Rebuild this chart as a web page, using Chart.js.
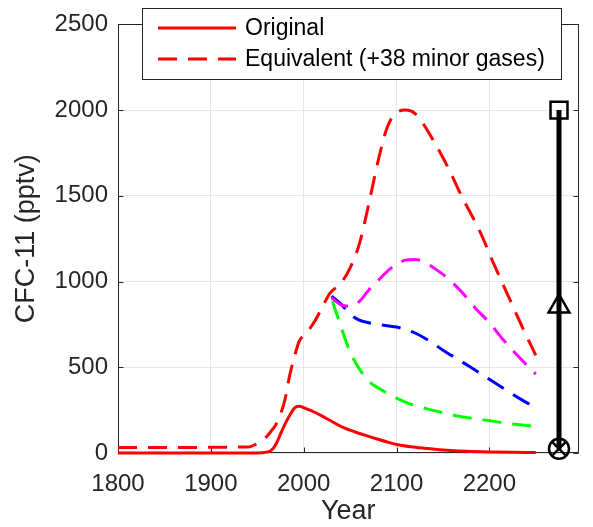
<!DOCTYPE html>
<html>
<head>
<meta charset="utf-8">
<script src="https://cdn.jsdelivr.net/npm/chart.js@4/dist/chart.umd.min.js"></script>
<style>
body { margin: 0; background: #fff; overflow: hidden; }
</style>
</head>
<body>
<canvas id="cfcChart" width="593" height="527"></canvas>
<script>
// CFC-11 mixing ratio (pptv)
const origYears = [1800, 1950, 1960, 1965, 1970, 1975, 1980, 1985, 1990, 1995, 2000, 2010, 2020, 2030, 2040, 2050, 2060, 2070, 2080, 2090, 2100, 2115, 2130, 2150, 2175, 2200, 2225, 2250];
const origVals  = [0, 0, 5, 15, 50, 110, 170, 220, 262, 272, 265, 242, 215, 185, 155, 133, 114, 97, 80, 64, 50, 37, 28, 18, 10, 6, 4, 3];

const equivYears = [1800, 1940, 1950, 1955, 1960, 1965, 1970, 1975, 1980, 1985, 1990, 1995, 2003, 2012, 2020, 2028, 2040, 2050, 2060, 2070, 2080, 2090, 2100, 2110, 2120, 2130, 2140, 2155, 2170, 2190, 2205, 2220, 2235, 2250];
const equivVals  = [32, 35, 55, 72, 95, 128, 165, 225, 315, 455, 560, 650, 700, 770, 850, 930, 990, 1080, 1220, 1450, 1700, 1900, 1985, 2000, 1980, 1910, 1820, 1670, 1500, 1290, 1100, 920, 740, 570];

const magentaYears = [2030, 2040, 2050, 2060, 2070, 2080, 2090, 2100, 2110, 2120, 2130, 2140, 2155, 2170, 2185, 2200, 2215, 2230, 2250];
const magentaVals  = [905, 865, 855, 885, 950, 1005, 1060, 1100, 1125, 1128, 1115, 1080, 1020, 940, 845, 760, 660, 570, 460];

const blueYears = [2030, 2040, 2050, 2060, 2070, 2080, 2090, 2100, 2110, 2120, 2135, 2150, 2165, 2180, 2200, 2220, 2235, 2250];
const blueVals  = [915, 870, 810, 775, 760, 750, 742, 735, 720, 700, 655, 600, 550, 500, 430, 360, 310, 265];

const greenYears = [2031, 2035, 2040, 2045, 2050, 2055, 2060, 2070, 2080, 2090, 2100, 2115, 2130, 2150, 2170, 2190, 2210, 2230, 2250];
const greenVals  = [885, 820, 740, 660, 590, 535, 490, 420, 380, 350, 320, 285, 262, 235, 212, 196, 180, 166, 155];

// range bar on the right
const rangeYear = 2275;
const rangeVals = [25, 855, 2000];
const rangeMarkers = ['circle', 'triangle', 'rect'];

const xTicks = [1800, 1900, 2000, 2100, 2200];
const yTicks = [0, 500, 1000, 1500, 2000, 2500];

const FONT = '"Liberation Sans", Arial, Helvetica, sans-serif';
const DASH = [19, 11];

function pts(xs, ys) {
  return xs.map((x, i) => ({x: x, y: ys[i]}));
}

function curve(label, xs, ys, color, dash) {
  return {
    label: label,
    data: pts(xs, ys),
    borderColor: color,
    borderWidth: 3,
    borderDash: dash,
    borderCapStyle: 'butt',
    pointRadius: 0,
    cubicInterpolationMode: 'monotone',
    fill: false,
    clip: false
  };
}

// box around the plot with inward ticks
const axesBox = {
  id: 'axesBox',
  beforeDatasetsDraw(chart) {
    const {ctx, chartArea: a, scales} = chart;
    const L = Math.round(a.left) + 0.5, R = Math.round(a.right) - 0.5;
    const T = Math.round(a.top) + 0.5, B = Math.round(a.bottom) - 0.5;
    ctx.save();
    ctx.strokeStyle = '#262626';
    ctx.lineWidth = 1;
    ctx.strokeRect(L, T, R - L, B - T);
    ctx.beginPath();
    xTicks.forEach(v => {
      const px = Math.round(scales.x.getPixelForValue(v)) + 0.5;
      ctx.moveTo(px, B); ctx.lineTo(px, B - 5);
      ctx.moveTo(px, T); ctx.lineTo(px, T + 5);
    });
    yTicks.forEach(v => {
      const py = Math.round(scales.y.getPixelForValue(v)) + 0.5;
      ctx.moveTo(L, py); ctx.lineTo(L + 5, py);
      ctx.moveTo(R, py); ctx.lineTo(R - 5, py);
    });
    ctx.stroke();
    ctx.restore();
  }
};

// boxed legend for the two red curves
const boxLegend = {
  id: 'boxLegend',
  afterDraw(chart) {
    const ctx = chart.ctx;
    ctx.save();
    ctx.fillStyle = '#fff';
    ctx.fillRect(142.5, 8.5, 419, 71);
    ctx.strokeStyle = '#262626';
    ctx.lineWidth = 1;
    ctx.strokeRect(142.5, 8.5, 419, 71);
    chart.data.datasets.slice(0, 2).forEach((ds, i) => {
      const yy = 28 + i * 31;
      ctx.strokeStyle = ds.borderColor;
      ctx.lineWidth = ds.borderWidth;
      ctx.setLineDash(ds.borderDash || []);
      ctx.beginPath();
      ctx.moveTo(158, yy);
      ctx.lineTo(236, yy);
      ctx.stroke();
      ctx.setLineDash([]);
      ctx.fillStyle = '#000';
      ctx.font = '23px ' + FONT;
      ctx.textBaseline = 'middle';
      ctx.fillText(ds.label, 245, yy + 1);
    });
    ctx.restore();
  }
};

new Chart(document.getElementById('cfcChart'), {
  type: 'line',
  data: {
    datasets: [
      curve('Original', origYears, origVals, '#ff0000', []),
      curve('Equivalent (+38 minor gases)', equivYears, equivVals, '#ff0000', DASH),
      curve('scenario 1', magentaYears, magentaVals, '#ff00ff', DASH),
      curve('scenario 2', blueYears, blueVals, '#0000ff', DASH),
      curve('scenario 3', greenYears, greenVals, '#00ff00', DASH),
      {
        label: 'range',
        data: pts(rangeVals.map(() => rangeYear), rangeVals),
        borderColor: '#000',
        borderWidth: 5,
        pointStyle: rangeMarkers,
        pointRadius: [10, 12, 12],
        pointBorderWidth: 2.5,
        pointBorderColor: '#000',
        pointBackgroundColor: 'rgba(0,0,0,0)',
        clip: false
      },
      {
        label: 'range low',
        data: pts([rangeYear], [rangeVals[0]]),
        showLine: false,
        pointStyle: 'crossRot',
        pointRadius: 9,
        pointBorderWidth: 2.5,
        pointBorderColor: '#000',
        clip: false
      }
    ]
  },
  options: {
    responsive: false,
    animation: false,
    devicePixelRatio: 1,
    layout: { padding: { top: 24, right: 2, left: 0, bottom: 0 } },
    plugins: {
      legend: { display: false },
      tooltip: { enabled: false }
    },
    scales: {
      x: {
        type: 'linear',
        min: 1800,
        max: 2296,
        afterBuildTicks: axis => { axis.ticks = xTicks.map(v => ({value: v})); },
        afterFit: axis => { axis.height = 74; },
        grid: { color: '#e6e6e6', drawTicks: false },
        border: { display: false },
        ticks: {
          color: '#262626',
          font: { family: FONT, size: 24 },
          padding: 17,
          maxRotation: 0,
          callback: v => String(v)
        },
        title: {
          display: true,
          text: 'Year',
          color: '#262626',
          font: { family: FONT, size: 27, lineHeight: 1 },
          padding: { top: 0, bottom: 1.5 }
        }
      },
      y: {
        min: 0,
        max: 2500,
        afterBuildTicks: axis => { axis.ticks = yTicks.map(v => ({value: v})); },
        afterFit: axis => { axis.width = 118; },
        grid: { color: '#e6e6e6', drawTicks: false },
        border: { display: false },
        ticks: {
          color: '#262626',
          font: { family: FONT, size: 24 },
          padding: 10,
          callback: v => String(v)
        },
        title: {
          display: true,
          text: 'CFC-11 (pptv)',
          color: '#262626',
          font: { family: FONT, size: 27, lineHeight: 1 },
          padding: { top: 13.5, bottom: 0 }
        }
      }
    }
  },
  plugins: [axesBox, boxLegend]
});
</script>
</body>
</html>
